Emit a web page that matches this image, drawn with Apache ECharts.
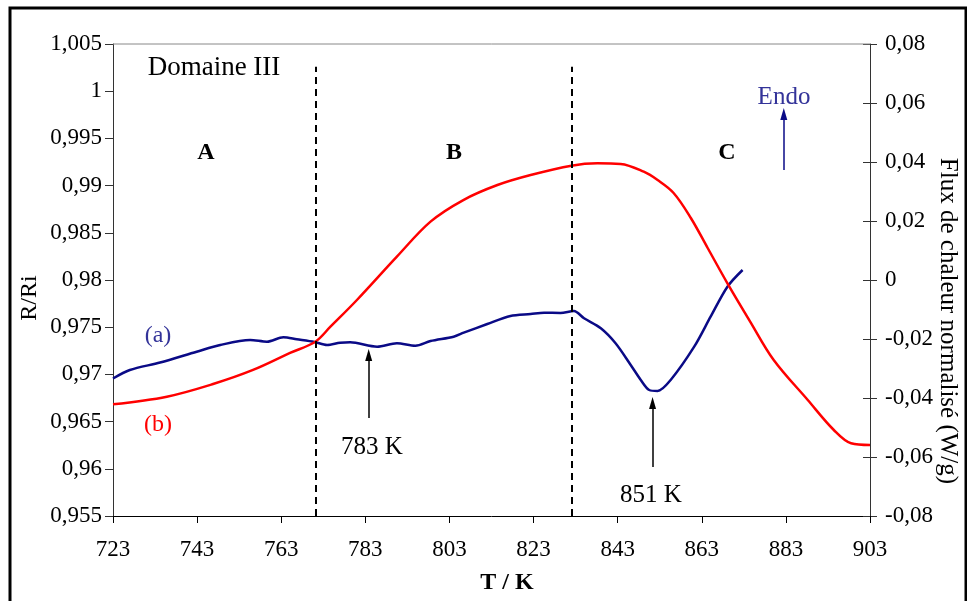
<!DOCTYPE html>
<html><head><meta charset="utf-8">
<script src="https://cdn.jsdelivr.net/npm/echarts@6/dist/echarts.min.js"></script>
<style>html,body{margin:0;padding:0;background:#fff}#c{width:967px;height:601px}</style>
</head><body><div id="c"></div>
<script>
// ---- data ----
// x axis (T / K)
const xMin = 723, xMax = 903, xStep = 20;
// left axis R/Ri
const yLeftMin = 0.955, yLeftMax = 1.005, yLeftStep = 0.005;
// right axis heat flux (W/g)
const yRightMin = -0.08, yRightMax = 0.08, yRightStep = 0.02;

// curve (b) : R/Ri (red, left axis)
const redT = [723, 735.8, 746.8, 756.3, 765.1, 771.1, 774.7, 781.0, 790.5, 798.5, 806.3, 814.4, 822.3, 832.0, 838.2, 843.7, 849.2, 852.5, 856.3, 860.4, 864.4, 869.1, 874.5, 880.1, 888.2, 894.4, 898.5, 903];
const redR = [0.96683, 0.96764, 0.96898, 0.97047, 0.97227, 0.97346, 0.97505, 0.97788, 0.98247, 0.98618, 0.98847, 0.99006, 0.99112, 0.99211, 0.99236, 0.99229, 0.99147, 0.99059, 0.98922, 0.98657, 0.98339, 0.97965, 0.97560, 0.97153, 0.96729, 0.96411, 0.96270, 0.96252];

// curve (a) : heat flux (blue, right axis)
const blueT = [723, 727.0, 734.2, 742.9, 748.5, 755.6, 759.6, 763.5, 766.7, 770.9, 773.9, 777.0, 779.4, 785.8, 790.5, 794.9, 798.5, 804.0, 806.4, 812.0, 817.5, 822.3, 825.5, 829.4, 832.6, 835.0, 839.0, 842.5, 846.1, 848.5, 850.5, 852.5, 855.6, 861.2, 865.1, 869.1, 872.7];
const blueF = [-0.03339, -0.03051, -0.02797, -0.02431, -0.02203, -0.02034, -0.02092, -0.01942, -0.02010, -0.02102, -0.02203, -0.02125, -0.02112, -0.02261, -0.02146, -0.02227, -0.02068, -0.01922, -0.01786, -0.01492, -0.01220, -0.01153, -0.01108, -0.01119, -0.01051, -0.01298, -0.01637, -0.02146, -0.02881, -0.03390, -0.03729, -0.03763, -0.03390, -0.02261, -0.01244, -0.00227, 0.00339];

// domain separators (T / K) and their top (R/Ri)
const dividerT = [771.1, 832.0];
const dividerTop = 1.0026;
// annotation arrows [T, yFrom, yTo]
const arrow783 = [783.8, 0.96538, 0.97205];
const arrow851 = [851.3, 0.96019, 0.96697];
const arrowEndo = [882.5, 0.0373, 0.0563];

// ---- chart ----
const serif = '"Liberation Serif","DejaVu Serif",serif';
const fmt = v => String(+(+v).toFixed(3)).replace('.', ',');
const redData = redT.map((t, i) => [t, redR[i]]);
const blueData = blueT.map((t, i) => [t, blueF[i]]);

const chart = echarts.init(document.getElementById('c'), null, {renderer: 'canvas'});
const txt = (text, x, y, size, color, weight, rot) => ({
  type: 'text', x: x, y: y, rotation: rot || 0, z: 100,
  style: {text: text, x: 0, y: 0, align: 'center', verticalAlign: 'middle',
    fill: color || '#000', font: (weight || 'normal') + ' ' + size + 'px ' + serif}
});

chart.setOption({
  animation: false,
  backgroundColor: '#fff',
  grid: {left: 113, top: 44, width: 757, height: 472, containLabel: false},
  xAxis: {
    type: 'value', min: xMin, max: xMax, interval: xStep,
    axisLine: {show: true, onZero: false, lineStyle: {color: '#000', width: 1}},
    axisTick: {show: true, inside: false, length: 7, lineStyle: {color: '#000'}},
    axisLabel: {color: '#000', fontFamily: serif, fontSize: 23, margin: 22},
    splitLine: {show: false}
  },
  yAxis: [
    {type: 'value', min: yLeftMin, max: yLeftMax, interval: yLeftStep, position: 'left',
      axisLine: {show: true, onZero: false, lineStyle: {color: '#333', width: 1}},
      axisTick: {show: true, inside: false, length: 8, lineStyle: {color: '#333'}},
      axisLabel: {color: '#000', fontFamily: serif, fontSize: 23, margin: 11, formatter: fmt},
      splitLine: {show: false}},
    {type: 'value', min: yRightMin, max: yRightMax, interval: yRightStep, position: 'right',
      axisLine: {show: true, onZero: false, lineStyle: {color: '#333', width: 1}},
      axisTick: {show: true, inside: false, length: 7, lineStyle: {color: '#333'}},
      axisLabel: {color: '#000', fontFamily: serif, fontSize: 23, margin: 15, formatter: fmt},
      splitLine: {show: false}},
    {type: 'value', min: yRightMin, max: yRightMax, interval: yRightStep, position: 'right',
      axisLine: {show: false},
      axisTick: {show: true, inside: true, length: 7, lineStyle: {color: '#333'}},
      axisLabel: {show: false}, splitLine: {show: false}}
  ],
  series: [
    {name: '(b)', type: 'line', yAxisIndex: 0, data: redData, showSymbol: false, smooth: 0.35,
      lineStyle: {color: '#ff0000', width: 2.5}, z: 4,
      markLine: {silent: true, symbol: ['none', 'none'], label: {show: false},
        lineStyle: {color: '#000', width: 2, type: [7, 5]},
        data: dividerT.map(t => [{coord: [t, yLeftMin]}, {coord: [t, dividerTop]}])}},
    {name: '(a)', type: 'line', yAxisIndex: 1, data: blueData, showSymbol: false, smooth: 0.3,
      lineStyle: {color: '#0a0a86', width: 2.5}, z: 3},
    {name: 'arrows', type: 'line', yAxisIndex: 0, data: [], showSymbol: false,
      markLine: {silent: true, symbol: ['none', 'triangle'], symbolSize: [7, 12], label: {show: false},
        lineStyle: {color: '#000', width: 1.5, type: 'solid'},
        data: [
          [{coord: [arrow783[0], arrow783[1]]}, {coord: [arrow783[0], arrow783[2]]}],
          [{coord: [arrow851[0], arrow851[1]]}, {coord: [arrow851[0], arrow851[2]]}]
        ]}},
    {name: 'endo', type: 'line', yAxisIndex: 1, data: [], showSymbol: false,
      markLine: {silent: true, symbol: ['none', 'triangle'], symbolSize: [7, 12], label: {show: false},
        lineStyle: {color: '#0a0a86', width: 1.5, type: 'solid'},
        data: [[{coord: [arrowEndo[0], arrowEndo[1]]}, {coord: [arrowEndo[0], arrowEndo[2]]}]]}}
  ],
  graphic: [
    {type: 'rect', shape: {x: 10, y: 8, width: 956, height: 620}, style: {fill: 'none', stroke: '#000', lineWidth: 3}, z: 50},
    {type: 'line', shape: {x1: 113, y1: 44, x2: 870, y2: 44}, style: {stroke: '#888', lineWidth: 1}, z: 50},
    txt('Domaine III', 214, 68, 27),
    txt('A', 206, 153, 24, '#000', 'bold'),
    txt('B', 454, 153, 24, '#000', 'bold'),
    txt('C', 727, 153, 24, '#000', 'bold'),
    txt('Endo', 784, 97, 25, '#333399'),
    txt('(a)', 158, 336, 24, '#333399'),
    txt('(b)', 158, 425, 24, '#ff0000'),
    txt('783 K', 372, 447, 25),
    txt('851 K', 651, 495, 25),
    txt('T / K', 507, 583, 24, '#000', 'bold'),
    txt('R/Ri', 30, 298, 24, '#000', 'normal', Math.PI / 2),
    txt('Flux de chaleur normalisé (W/g)', 948, 321, 25, '#000', 'normal', -Math.PI / 2)
  ]
});
</script>
</body></html>
